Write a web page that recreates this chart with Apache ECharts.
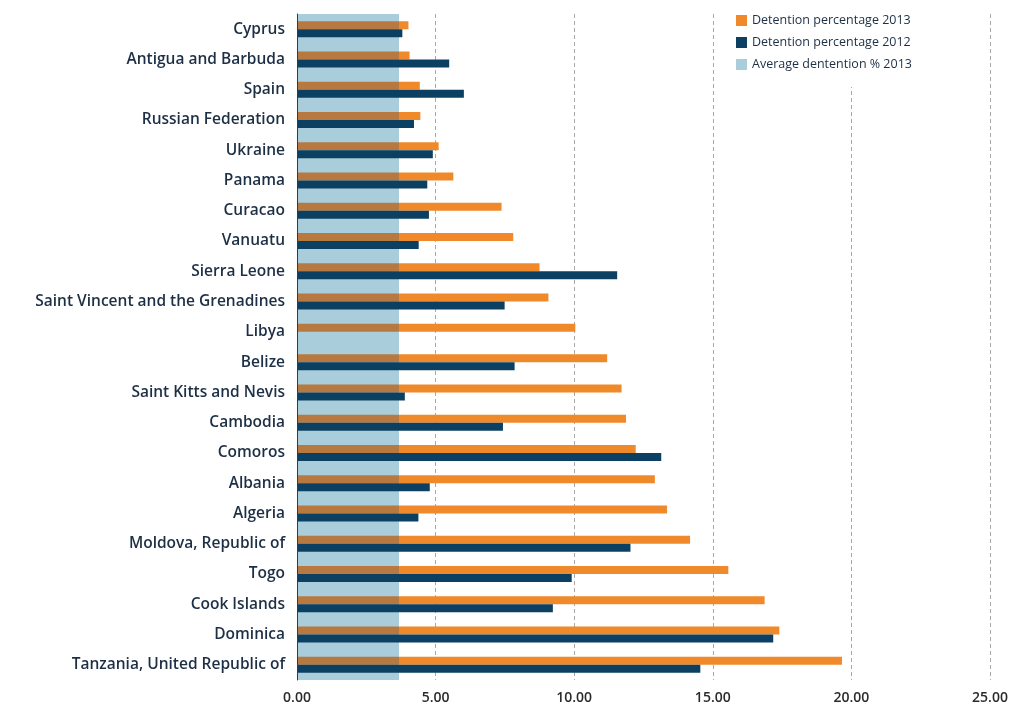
<!DOCTYPE html>
<html>
<head>
<meta charset="utf-8">
<script src="https://cdn.jsdelivr.net/npm/echarts@6/dist/echarts.min.js"></script>
<style>
html,body{margin:0;padding:0;background:#fff;}
#chart{width:1024px;height:712px;}
</style>
</head>
<body>
<div id="chart"></div>
<script>
const categories = [
  "Cyprus", "Antigua and Barbuda", "Spain", "Russian Federation", "Ukraine",
  "Panama", "Curacao", "Vanuatu", "Sierra Leone", "Saint Vincent and the Grenadines",
  "Libya", "Belize", "Saint Kitts and Nevis", "Cambodia", "Comoros", "Albania",
  "Algeria", "Moldova, Republic of", "Togo", "Cook Islands", "Dominica",
  "Tanzania, United Republic of"
];
const detention2013 = [
  4.02, 4.06, 4.43, 4.45, 5.11, 5.64, 7.38, 7.80, 8.75, 9.07,
  10.04, 11.19, 11.71, 11.87, 12.22, 12.91, 13.35, 14.18, 15.56, 16.87,
  17.40, 19.66
];
const detention2012 = [
  3.80, 5.49, 6.02, 4.22, 4.90, 4.70, 4.76, 4.39, 11.55, 7.49,
  null, 7.85, 3.89, 7.43, 13.14, 4.79, 4.38, 12.03, 9.91, 9.23,
  17.18, 14.55
];
const averageDetention2013 = [3.68];
const xMin = 0, xMax = 25, xStep = 5;

const ORANGE = '#f0892a';
const BROWN = '#b7793f';
const NAVY = '#0c4062';
const LIGHTBLUE = '#a9cddb';
const TEXT = '#1d2f45';

const avg = averageDetention2013[0];
const data2013 = detention2013.map(v => {
  const f = Math.min(1, avg / v);
  return {
    value: v,
    itemStyle: {
      color: new echarts.graphic.LinearGradient(0, 0, 1, 0, [
        {offset: 0, color: BROWN},
        {offset: f, color: BROWN},
        {offset: f, color: ORANGE},
        {offset: 1, color: ORANGE}
      ])
    }
  };
});

const chart = echarts.init(document.getElementById('chart'), null, {renderer: 'canvas'});
chart.setOption({
  animation: false,
  backgroundColor: '#fff',
  grid: {left: 297, right: 34, top: 14, bottom: 32, containLabel: false},
  legend: {
    orient: 'vertical',
    left: 726,
    top: 8,
    backgroundColor: '#fff',
    padding: [6, 10, 16, 10],
    itemWidth: 11,
    itemHeight: 11,
    itemGap: 9,
    icon: 'rect',
    textStyle: {color: TEXT, fontSize: 12.5, fontFamily: 'Open Sans'},
    data: ['Detention percentage 2013', 'Detention percentage 2012', 'Average dentention % 2013']
  },
  xAxis: {
    type: 'value',
    min: xMin, max: xMax, interval: xStep,
    axisLine: {show: false},
    axisTick: {show: false},
    axisLabel: {
      color: '#2b2b2b', fontSize: 14, fontWeight: 600, fontFamily: 'Open Sans', margin: 11,
      formatter: v => v.toFixed(2)
    },
    splitLine: {show: true, lineStyle: {color: '#a8a8a8', type: [4, 3], width: 1}}
  },
  yAxis: [
    {
      type: 'category',
      data: categories,
      inverse: true,
      axisLine: {show: true, lineStyle: {color: '#3a3a3a', width: 1}},
      axisTick: {show: false},
      axisLabel: {color: TEXT, fontSize: 15.5, fontWeight: 600, fontFamily: 'Open Sans', margin: 12,
        padding: [3, 0, 0, 0]},
      z: 5
    },
    {
      type: 'category',
      data: ['avg'],
      show: false
    }
  ],
  series: [
    {
      name: 'Average dentention % 2013',
      type: 'bar',
      yAxisIndex: 1,
      barWidth: '100%',
      data: averageDetention2013,
      itemStyle: {color: LIGHTBLUE},
      z: 1
    },
    {
      name: 'Detention percentage 2013',
      type: 'bar',
      yAxisIndex: 0,
      barWidth: 8,
      barGap: '0%',
      data: data2013,
      itemStyle: {color: ORANGE},
      z: 3
    },
    {
      name: 'Detention percentage 2012',
      type: 'bar',
      yAxisIndex: 0,
      barWidth: 8,
      barGap: '0%',
      data: detention2012,
      itemStyle: {color: NAVY},
      z: 3
    }
  ]
});
</script>
</body>
</html>
